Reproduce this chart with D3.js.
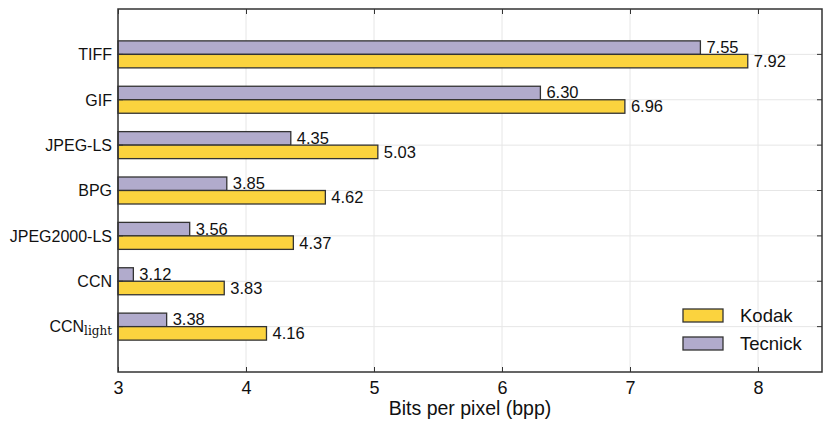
<!DOCTYPE html>
<html><head><meta charset="utf-8">
<script src="https://cdn.jsdelivr.net/npm/d3@7"></script>
<style>body{margin:0;background:#fff}svg{display:block;font-family:"Liberation Sans",Arial,sans-serif}</style>
</head><body>
<script>
const categories = ["TIFF","GIF","JPEG-LS","BPG","JPEG2000-LS","CCN","CCN_light"];
const kodak   = [7.92, 6.96, 5.03, 4.62, 4.37, 3.83, 4.16];
const tecnick = [7.55, 6.30, 4.35, 3.85, 3.56, 3.12, 3.38];
const xTicks  = [3,4,5,6,7,8];
const seriesNames = ["Kodak","Tecnick"];
const colors = {Kodak:"#fbd33e", Tecnick:"#b1abcc"};

const W=831,H=428, L=118, R=822, T=9, B=372;
const svg=d3.select("body").append("svg").attr("width",W).attr("height",H);
const x=d3.scaleLinear().domain([3,8.5]).range([L,R]);
const yIdx=d3.scaleLinear().domain([0,categories.length+1]).range([T,B]);
const yc = i => yIdx(i+1);
const bh=13.5;

// grid
const g=svg.append("g");
g.selectAll(".vg").data(xTicks).join("line").attr("x1",d=>x(d)).attr("x2",d=>x(d)).attr("y1",T).attr("y2",B).attr("stroke","#e6e6e6").attr("stroke-width",1);
g.selectAll(".hg").data(categories).join("line").attr("x1",L).attr("x2",R).attr("y1",(d,i)=>yc(i)).attr("y2",(d,i)=>yc(i)).attr("stroke","#e6e6e6").attr("stroke-width",1);

// bars
const bars=svg.append("g");
categories.forEach((c,i)=>{
  bars.append("rect").attr("x",x(3)).attr("y",yc(i)-bh).attr("width",x(tecnick[i])-x(3)).attr("height",bh)
    .attr("fill",colors.Tecnick).attr("stroke","#333").attr("stroke-width",1.3);
  bars.append("rect").attr("x",x(3)).attr("y",yc(i)).attr("width",x(kodak[i])-x(3)).attr("height",bh)
    .attr("fill",colors.Kodak).attr("stroke","#333").attr("stroke-width",1.3);
  bars.append("text").attr("x",x(tecnick[i])+6).attr("y",yc(i)-bh/2-0.5).attr("dy","0.36em").attr("font-size",16.5).attr("fill","#111").text(tecnick[i].toFixed(2));
  bars.append("text").attr("x",x(kodak[i])+6).attr("y",yc(i)+bh/2).attr("dy","0.36em").attr("font-size",16.5).attr("fill","#111").text(kodak[i].toFixed(2));
});

// frame
svg.append("rect").attr("x",L).attr("y",T).attr("width",R-L).attr("height",B-T).attr("fill","none").attr("stroke","#333").attr("stroke-width",1.5);

// axes ticks (inward)
const xa=svg.append("g").attr("transform",`translate(0,${B})`).call(d3.axisBottom(x).tickValues(xTicks).tickSizeInner(-5).tickSizeOuter(0).tickPadding(9).tickFormat(d3.format("d")));
xa.select(".domain").remove();
xa.selectAll("line").attr("stroke","#333");
xa.selectAll("text").attr("font-size",18).attr("fill","#111").attr("font-family","Liberation Sans, Arial, sans-serif");
const xt=svg.append("g").attr("transform",`translate(0,${T})`).call(d3.axisTop(x).tickValues(xTicks).tickSizeInner(-5).tickSizeOuter(0).tickFormat(""));
xt.select(".domain").remove(); xt.selectAll("line").attr("stroke","#333");

svg.selectAll(".yt").data(categories).join("line").attr("x1",L).attr("x2",L+5).attr("y1",(d,i)=>yc(i)).attr("y2",(d,i)=>yc(i)).attr("stroke","#333");
svg.selectAll(".yt2").data(categories).join("line").attr("x1",R).attr("x2",R-5).attr("y1",(d,i)=>yc(i)).attr("y2",(d,i)=>yc(i)).attr("stroke","#333");

// y labels
categories.forEach((c,i)=>{
  const t=svg.append("text").attr("x",L-6).attr("y",yc(i)).attr("dy","0.36em").attr("text-anchor","end").attr("font-size",16).attr("fill","#111");
  if(c==="CCN_light"){
    t.append("tspan").text("CCN");
    t.append("tspan").attr("font-family","DejaVu Serif, Liberation Serif, serif").attr("font-size",12).attr("dy","3").text("light");
  } else t.text(c);
});

svg.append("text").attr("x",(L+R)/2).attr("y",415).attr("text-anchor","middle").attr("font-size",19.5).attr("fill","#111").text("Bits per pixel (bpp)");

// legend
const lg=svg.append("g");
seriesNames.forEach((s,i)=>{
  const yy=309+i*28;
  lg.append("rect").attr("x",683).attr("y",yy).attr("width",40).attr("height",13).attr("fill",colors[s]).attr("stroke","#333").attr("stroke-width",1.3);
  lg.append("text").attr("x",740).attr("y",yy+6.5).attr("dy","0.36em").attr("font-size",18.5).attr("fill","#111").text(s);
});
</script>
</body></html>
